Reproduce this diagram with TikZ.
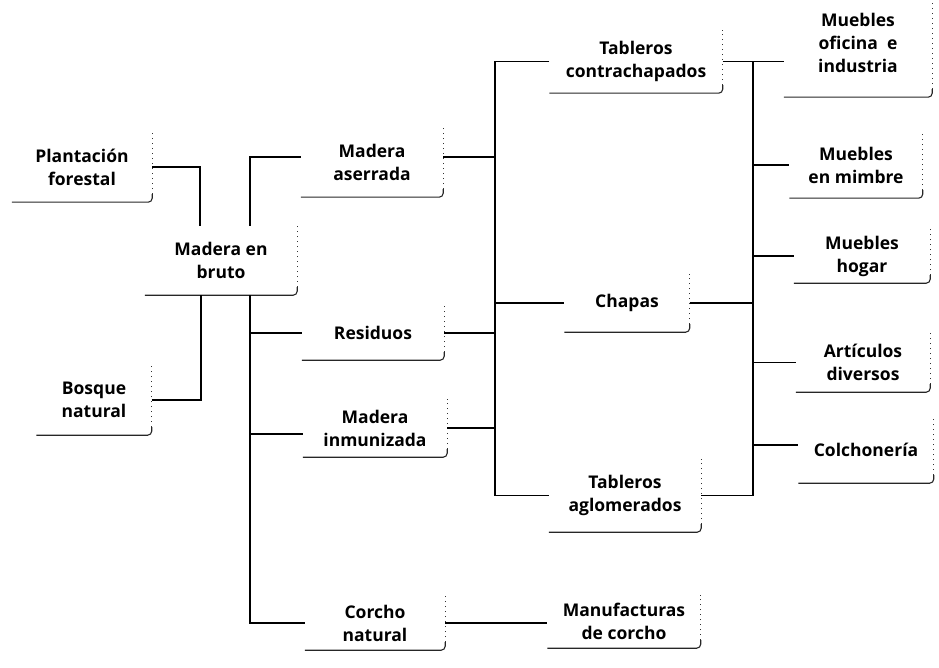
\documentclass[tikz,border=0pt]{standalone}
\usepackage{fontspec}
\setmainfont{Open Sans}
\begin{document}
\begin{tikzpicture}[x=1pt,y=-1pt,
  box/.style={draw=none, align=center, inner sep=0pt,
    font=\fontsize{17.5}{23}\selectfont\bfseries},
  link/.style={line width=1.8pt, black},
  boxbottom/.style={line width=1.1pt, black!85},
  boxside/.style={line width=1pt, black!80, dash pattern=on 1.5pt off 3.5pt}]
\useasboundingbox (0,0) rectangle (939,668);

% product boxes: centre, width, height
\node[box, minimum width=140, minimum height=70] (plant) at (82,167) {Plantación\\forestal};
\node[box, minimum width=115, minimum height=70] (bosque) at (94,400) {Bosque\\natural};
\node[box, minimum width=152, minimum height=69] (bruto) at (221,260.5) {Madera en\\bruto};
\node[box, minimum width=142, minimum height=70] (aserrada) at (372,162) {Madera\\aserrada};
\node[box, minimum width=142, minimum height=54] (residuos) at (373,333) {Residuos};
\node[box, minimum width=144, minimum height=58] (inmunizada) at (375,428) {Madera\\inmunizada};
\node[box, minimum width=140, minimum height=54] (corcho) at (375,623) {Corcho\\natural};
\node[box, minimum width=173, minimum height=63] (contrachapados) at (636,61.5) {Tableros\\contrachapados};
\node[box, minimum width=125, minimum height=58] (chapas) at (627,303) {Chapas};
\node[box, minimum width=152, minimum height=73] (aglomerados) at (625,495.5) {Tableros\\aglomerados};
\node[box, minimum width=153, minimum height=53] (manufacturas) at (624,621.5) {Manufacturas\\de corcho};
\node[box, minimum width=148, minimum height=108] (oficina) at (858,43) {Muebles\\oficina\ \ e\\industria};
\node[box, minimum width=133, minimum height=66] (mimbre) at (856,165) {Muebles\\en mimbre};
\node[box, minimum width=136, minimum height=54] (hogar) at (862,256) {Muebles\\hogar};
\node[box, minimum width=134, minimum height=59] (diversos) at (863,362.5) {Artículos\\diversos};
\node[box, minimum width=135, minimum height=66] (colchoneria) at (866,450) {Colchonería};

% shadow edges of the boxes: bottom rule and dotted right side
\foreach \n in {plant,bosque,bruto,aserrada,residuos,inmunizada,corcho,
                contrachapados,chapas,aglomerados,manufacturas,
                oficina,mimbre,hogar,diversos,colchoneria}{
  \draw[boxbottom, rounded corners=4pt] (\n.south west) -- (\n.south east) -- ([yshift=8pt]\n.south east);
  \draw[boxside] ([yshift=8pt]\n.south east) -- (\n.north east);
}

% spine positions
\coordinate (trunk) at (250,0);
\coordinate (sa) at (495,0);
\coordinate (sb) at (753,0);

% raw wood sources
\draw[link] (plant.east) -| ([xshift=-21pt]bruto.north);
\draw[link] (bosque.east) -| ([xshift=-20pt]bruto.south);

% first-stage products from raw wood
\draw[link] ([xshift=29pt]bruto.north) |- ([yshift=5pt]aserrada.west);
\draw[link] ([xshift=29pt]bruto.south) |- (corcho.west);
\draw[link] (residuos.west -| trunk) -- (residuos.west);
\draw[link] ([yshift=-6pt]inmunizada.west -| trunk) -- ([yshift=-6pt]inmunizada.west);

% boards and veneers
\draw[link] (contrachapados.west) -- (contrachapados.west -| sa) -- (aglomerados.west -| sa) -- (aglomerados.west);
\draw[link] ([yshift=5pt]aserrada.east) -- ([yshift=5pt]aserrada.east -| sa);
\draw[link] (residuos.east) -- (residuos.east -| sa);
\draw[link] (inmunizada.east) -- (inmunizada.east -| sa);
\draw[link] (chapas.west -| sa) -- (chapas.west);

% furniture and other goods
\draw[link] (contrachapados.east) -- (contrachapados.east -| oficina.west);
\draw[link] (contrachapados.east -| sb) -- (aglomerados.east -| sb) -- (aglomerados.east);
\draw[link] (chapas.east) -- (chapas.east -| sb);
\draw[link] (mimbre.west -| sb) -- (mimbre.west);
\draw[link] (hogar.west -| sb) -- (hogar.west);
\draw[link] (diversos.west -| sb) -- (diversos.west);
\draw[link] ([yshift=5pt]colchoneria.west -| sb) -- ([yshift=5pt]colchoneria.west);

% cork
\draw[link] (corcho.east) -- (corcho.east -| manufacturas.west);
\end{tikzpicture}
\end{document}
